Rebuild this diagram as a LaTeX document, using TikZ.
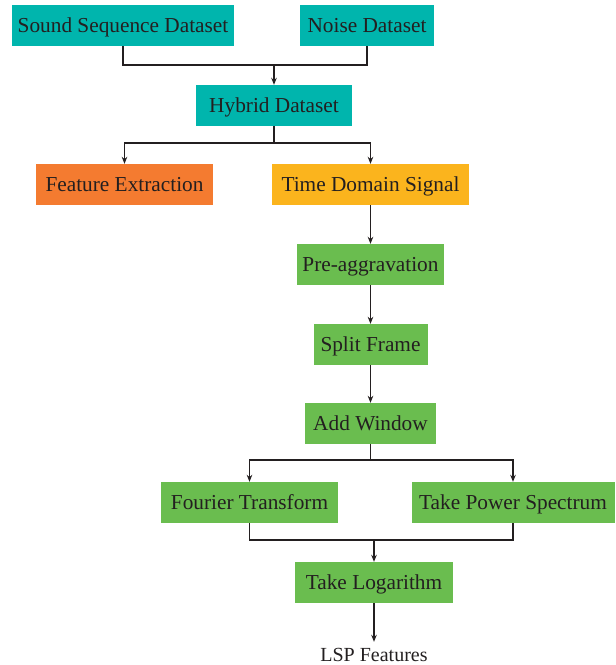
\documentclass[tikz,border=0pt]{standalone}
\usepackage{fontspec}
\setmainfont{Liberation Serif}
\usetikzlibrary{arrows.meta}
\definecolor{teal1}{HTML}{00B5AD}
\definecolor{orange1}{HTML}{F47B30}
\definecolor{yellow1}{HTML}{FBB41D}
\definecolor{green1}{HTML}{6ABD4F}
\definecolor{ink}{HTML}{231F20}
\begin{document}
\begin{tikzpicture}[x=1pt,y=-1pt,
  box/.style={rectangle, inner sep=0pt, minimum height=41pt, text=ink,
     text height=14pt, text depth=0pt,
     font=\fontsize{21.3}{24}\selectfont},
  tealbox/.style={box, fill=teal1},
  orangebox/.style={box, fill=orange1},
  yellowbox/.style={box, fill=yellow1},
  greenbox/.style={box, fill=green1},
  line/.style={draw=ink, line width=1.2pt},
  arr/.style={line, -{Stealth[length=7pt,width=5.5pt]}}]
\useasboundingbox (0,0) rectangle (616,665);
\node[tealbox, minimum width=222pt] (ssd) at (123,25.5) {Sound Sequence Dataset};
\node[tealbox, minimum width=134pt] (noise) at (367,25.5) {Noise Dataset};
\node[tealbox, minimum width=156pt] (hybrid) at (274,105.5) {Hybrid Dataset};
\node[orangebox, minimum width=177pt] (feat) at (124.5,184.5) {Feature Extraction};
\node[yellowbox, minimum width=197pt] (time) at (370.5,184.5) {Time Domain Signal};
\node[greenbox, minimum width=147pt] (pre) at (370.5,264.5) {Pre-aggravation};
\node[greenbox, minimum width=114pt] (split) at (370.5,344.5) {Split Frame};
\node[greenbox, minimum width=131pt] (add) at (370.5,423.5) {Add Window};
\node[greenbox, minimum width=177pt] (fourier) at (249.5,502.5) {Fourier Transform};
\node[greenbox, minimum width=203pt] (power) at (513,502.5) {Take Power Spectrum};
\node[greenbox, minimum width=158pt] (log) at (374,582.5) {Take Logarithm};
\node[anchor=base, inner xsep=0pt, inner ysep=0pt, text height=14pt, text depth=0pt,
  text=ink, font=\fontsize{20}{24}\selectfont] (lsp) at (374,661) {LSP Features};

\coordinate (m1) at (274,65);
\coordinate (s1) at (274,143);
\coordinate (s2) at (370.5,460);
\coordinate (m2) at (374,540);

\draw[line] (ssd.south) |- (m1) -| (noise.south);
\draw[arr] (m1) -- (hybrid.north);
\draw[line] (hybrid.south) -- (s1);
\draw[arr] (s1) -| (feat.north);
\draw[arr] (s1) -| (time.north);
\draw[arr] (time.south) -- (pre.north);
\draw[arr] (pre.south) -- (split.north);
\draw[arr] (split.south) -- (add.north);
\draw[line] (add.south) -- (s2);
\draw[arr] (s2) -| (fourier.north);
\draw[arr] (s2) -| (power.north);
\draw[line] (fourier.south) |- (m2) -| (power.south);
\draw[arr] (m2) -- (log.north);
\draw[arr, shorten >=5pt] (log.south) -- (lsp.north);
\end{tikzpicture}
\end{document}
